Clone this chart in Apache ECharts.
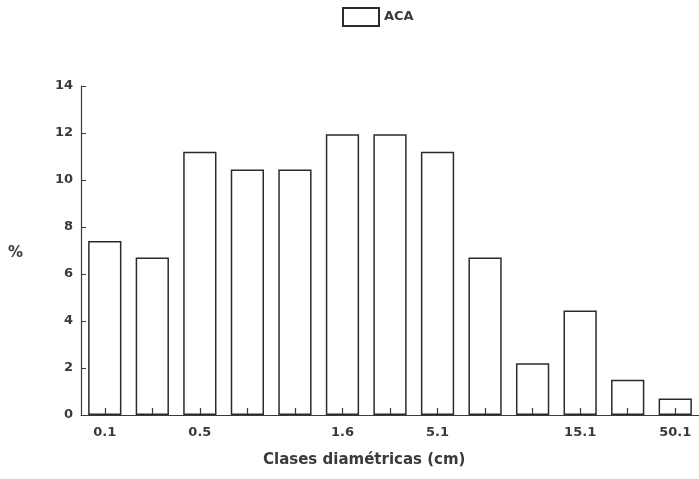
<!DOCTYPE html>
<html>
<head>
<meta charset="utf-8">
<script src="https://cdn.jsdelivr.net/npm/echarts@6/dist/echarts.min.js"></script>
<style>
  html, body { margin: 0; padding: 0; background: #fff; }
  #chart { width: 699px; height: 479px; }
</style>
</head>
<body>
<div id="chart"></div>
<script>
// clases diametricas (13 clases), solo algunas llevan etiqueta
var classes = ['c1', 'c2', 'c3', 'c4', 'c5', 'c6', 'c7', 'c8', 'c9', 'c10', 'c11', 'c12', 'c13'];
var tickLabels = ['0.1', '', '0.5', '', '', '1.6', '', '5.1', '', '', '15.1', '', '50.1'];
var acaValues = [7.4, 6.7, 11.2, 10.45, 10.45, 11.95, 11.95, 11.2, 6.7, 2.2, 4.45, 1.5, 0.7];
var yTicks = [0, 2, 4, 6, 8, 10, 12, 14];

var ink = '#3a3a3a';
var font = 'DejaVu Sans';
var chart = echarts.init(document.getElementById('chart'));

chart.setOption({
  animation: false,
  legend: {
    data: ['ACA'],
    left: 337,
    top: 2,
    itemWidth: 36,
    itemHeight: 18,
    itemGap: 10,
    icon: 'rect',
    textStyle: { color: ink, fontSize: 13, fontWeight: 'bold', fontFamily: font }
  },
  grid: {
    left: 81,
    top: 86,
    width: 620,
    height: 329
  },
  xAxis: {
    type: 'category',
    data: classes,
    boundaryGap: true,
    axisLine: { show: true, lineStyle: { color: ink, width: 1.2 } },
    axisTick: {
      show: true,
      inside: true,
      alignWithLabel: true,
      interval: 0,
      length: 7,
      lineStyle: { color: ink, width: 1.2 }
    },
    axisLabel: {
      interval: 0,
      margin: 11,
      color: ink,
      fontSize: 13,
      fontWeight: 'bold',
      fontFamily: font,
      formatter: function (v, i) { return tickLabels[i]; }
    },
    splitLine: { show: false }
  },
  yAxis: {
    type: 'value',
    min: yTicks[0],
    max: yTicks[yTicks.length - 1],
    interval: 2,
    axisLine: { show: true, lineStyle: { color: ink, width: 1.2 } },
    axisTick: { show: true, inside: true, length: 5, lineStyle: { color: ink } },
    axisLabel: {
      margin: 8,
      color: ink,
      fontSize: 13,
      fontWeight: 'bold',
      fontFamily: font
    },
    splitLine: { show: false }
  },
  graphic: [
    {
      type: 'text',
      left: 8,
      top: 246,
      style: { text: '%', fill: ink, fontSize: 15, fontWeight: 'bold', fontFamily: font }
    },
    {
      type: 'text',
      left: 263,
      top: 453,
      style: { text: 'Clases diamétricas (cm)', fill: ink, fontSize: 15, fontWeight: 'bold', fontFamily: font }
    }
  ],
  series: [
    {
      name: 'ACA',
      type: 'bar',
      data: acaValues,
      barCategoryGap: '30%',
      itemStyle: { color: 'rgba(255,255,255,0)', borderColor: '#2b2b2b', borderWidth: 1.5 }
    }
  ]
});
</script>
</body>
</html>
